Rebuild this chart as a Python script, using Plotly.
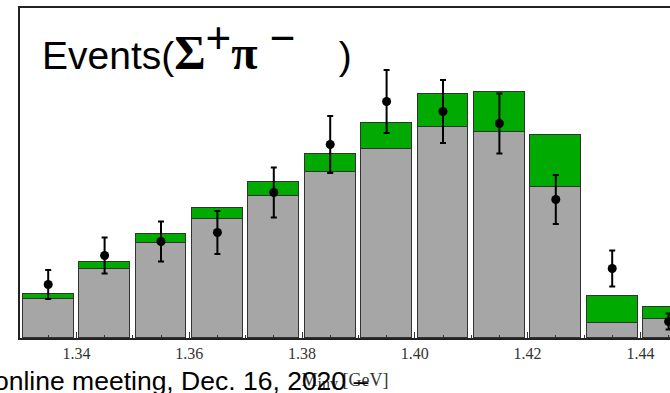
import plotly.graph_objects as go

# Invariant-mass bins (GeV), 10 MeV wide
bin_centers = [1.335, 1.345, 1.355, 1.365, 1.375, 1.385,
               1.395, 1.405, 1.415, 1.425, 1.435, 1.445]

# Stacked MC components
background = [19.75, 34.75, 47.75, 59.75, 71.25, 83.25,
              94.75, 105.75, 103.25, 75.75, 7.75, 9.75]
signal = [2.25, 3.5, 4.5, 5.5, 7.0, 9.0,
          13.0, 16.5, 20.0, 26.0, 13.5, 6.0]

# Measured yields with statistical errors
data_counts = [26.75, 41.25, 48.25, 52.75, 72.75, 96.75,
               118.25, 113.25, 107.25, 69.25, 34.75, 8.25]
data_errors = [7.25, 9.0, 10.0, 10.75, 12.5, 14.25,
               15.75, 15.75, 15.0, 12.25, 9.0, 4.0]

tick_values = [1.34, 1.36, 1.38, 1.40, 1.42, 1.44]
tick_labels = ["1.34", "1.36", "1.38", "1.40", "1.42", "1.44"]

W, H = 670, 393
ML, MT, MB = 20, 8, 55
plot_w = W - ML
plot_h = H - MT - MB

edge = dict(color="#333333", width=1.5)

fig = go.Figure()
fig.add_trace(go.Bar(
    x=bin_centers, y=background, width=0.009,
    marker=dict(color="#a6a6a6", line=edge),
    showlegend=False,
))
fig.add_trace(go.Bar(
    x=bin_centers, y=signal, width=0.009,
    marker=dict(color="#00aa00", line=edge),
    showlegend=False,
))
fig.add_trace(go.Scatter(
    x=bin_centers, y=data_counts, mode="markers",
    marker=dict(color="black", size=9),
    error_y=dict(type="data", array=data_errors, color="black",
                 thickness=2, width=3),
    showlegend=False,
))

x0 = 1.33
x1 = x0 + 0.01 * plot_w / 56.4

fig.update_layout(
    width=W, height=H,
    margin=dict(l=ML, r=0, t=MT, b=MB, pad=0),
    paper_bgcolor="white", plot_bgcolor="white",
    barmode="stack", bargap=0,
    xaxis=dict(
        range=[x0, x1], showgrid=False, zeroline=False,
        showline=True, linecolor="#222222", linewidth=1.5, mirror=True,
        tickmode="array", tickvals=tick_values, ticktext=tick_labels,
        ticks="inside", ticklen=6, tickwidth=1, tickcolor="#333333",
        minor=dict(dtick=0.005, tick0=1.33, ticks="inside", ticklen=3,
                   tickcolor="#333333", tickwidth=1, showgrid=False),
        tickfont=dict(family="Liberation Serif", size=16, color="#333333"),
        title=dict(text="M<sub><span style='font-size:16px'>inv</span></sub>\u00a0[GeV]",
                   font=dict(family="Liberation Serif", size=18, color="#333333"),
                   standoff=12),
    ),
    yaxis=dict(
        range=[0, plot_h / 2], showgrid=False, zeroline=False,
        showline=True, linecolor="#222222", linewidth=1.5,
        showticklabels=False, ticks="",
    ),
)

serif_b = "<span style='font-family:Liberation Serif;font-weight:bold;font-size:48px'>{}</span>"
big_sup = "<sup><span style='font-size:44px'>{}</span></sup>"
fig.add_annotation(
    xref="paper", yref="paper",
    x=(40 - ML) / plot_w, y=(H - MB - 46) / plot_h,
    xanchor="left", yanchor="middle", showarrow=False,
    text="Events(" + serif_b.format("Σ") + big_sup.format("+")
         + serif_b.format("π") + big_sup.format("\u00a0−") + "\u00a0\u00a0\u00a0\u00a0)",
    font=dict(family="Liberation Sans", size=39, color="black"),
)

fig.add_annotation(
    xref="paper", yref="paper",
    x=(-8 - ML) / plot_w, y=(H - MB - 381) / plot_h,
    xanchor="left", yanchor="middle", showarrow=False,
    text="online meeting, Dec. 16, 2020 –",
    font=dict(family="Liberation Sans", size=26.5, color="black"),
)

fig.write_html("out.html")
